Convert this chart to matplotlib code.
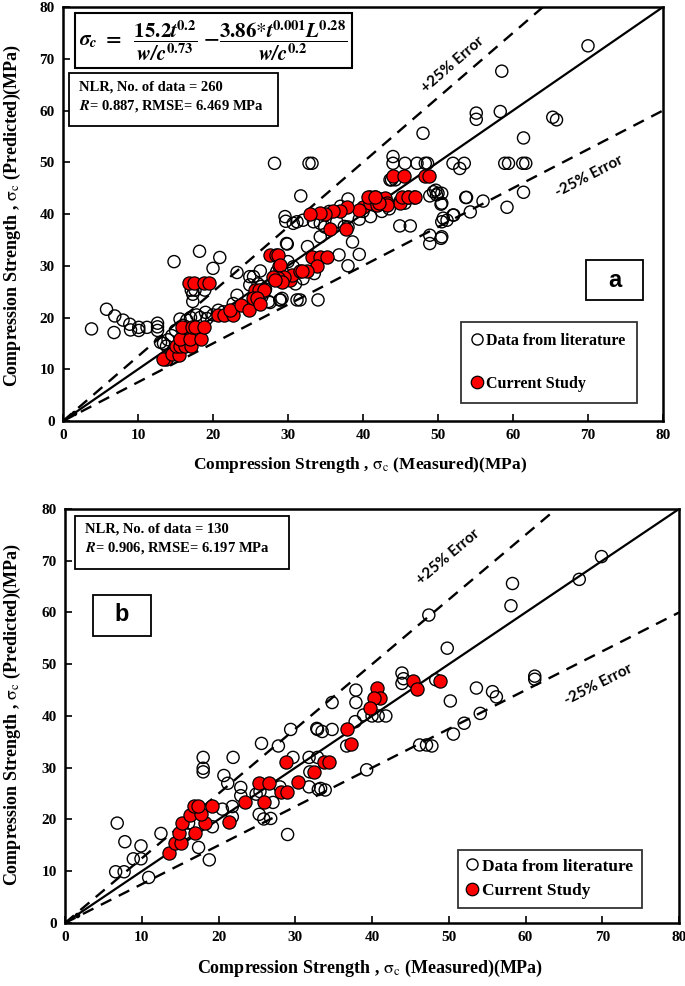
import matplotlib
matplotlib.use("Agg")
import matplotlib.pyplot as plt
from matplotlib.patches import Rectangle
from matplotlib.lines import Line2D
import numpy as np

plt.rcParams['mathtext.fontset'] = 'stix'
SERIF = 'Liberation Serif'
SANS = 'Liberation Sans'

# ---------------- data: panel a ----------------
lit_a_x = [3.8, 5.8, 6.9, 6.8, 8.0, 8.9, 9.0, 10.1, 10.1, 11.2, 12.6, 12.6, 12.6, 13.4, 14.0, 13.8, 13.0,
           14.8, 18.2, 20.9, 20.0, 23.2, 26.3, 25.4, 29.9, 17.3, 17.1, 17.6, 18.9, 17.3, 15.6, 17.8, 18.3,
           19.2, 20.7, 21.4, 23.2, 22.7, 28.9, 31.2, 27.4, 28.5, 28.9, 30.0, 30.7,
           48.0, 28.2, 32.8, 33.2, 44.0, 44.0, 45.6, 47.2, 48.3, 48.6, 52.0, 53.5, 52.9, 43.8, 44.3, 31.7,
           29.6, 29.7, 31.2, 32.0, 33.4, 38.0, 44.9, 45.6, 49.4, 49.8, 48.9, 50.4, 53.7, 50.7, 51.2, 52.0,
           44.9, 46.3, 48.9, 48.9, 50.4, 38.6, 39.5, 36.8, 38.0, 32.6, 38.0, 37.5, 34.3, 34.9, 31.6, 34.0,
           29.0, 27.6,
           70.0, 58.5, 55.1, 55.1, 58.3, 65.3, 65.8, 61.4, 58.9, 59.4, 61.3, 61.7, 61.4, 59.2, 53.8, 56.0,
           54.3, 52.1, 50.5, 50.5, 50.5, 50.5,
           43.6, 49.7, 50.0, 29.8, 34.3, 24.9, 24.9, 26.4, 29.2, 30.7,
           36.5, 39.5, 41.0, 42.5, 43.5, 40.0, 37.0, 35.5,
           14.5, 15.0, 16.0, 16.5, 17.0, 19.0, 20.0, 15.5, 16.8, 26.0, 27.0, 26.5, 32.0, 33.5, 31.0]
lit_a_y = [17.8, 21.6, 20.3, 17.1, 19.5, 18.7, 17.6, 18.1, 17.5, 18.1, 18.9, 18.2, 17.5, 15.0, 15.7, 14.5, 15.2,
           30.8, 32.8, 31.6, 29.5, 28.7, 29.0, 27.9, 34.2, 23.1, 25.3, 25.3, 25.3, 24.5, 19.7, 20.5, 20.0,
           19.8, 21.4, 21.1, 24.3, 22.7, 23.4, 23.4, 23.1, 28.9, 27.9, 30.8, 29.8,
           55.6, 49.8, 49.8, 49.8, 51.1, 49.8, 49.8, 49.8, 49.8, 49.8, 49.8, 49.8, 48.8, 46.6, 46.6, 43.5,
           39.5, 38.6, 38.5, 38.8, 38.5, 42.9, 42.4, 42.1, 44.3, 43.7, 43.5, 41.9, 43.2, 39.2, 38.8, 39.8,
           37.7, 37.7, 35.9, 34.3, 35.3, 34.6, 32.2, 32.1, 30.0, 33.7, 37.5, 37.6, 38.2, 37.5, 23.4, 23.4,
           23.4, 22.9,
           72.5, 67.6, 59.5, 58.3, 59.8, 58.7, 58.2, 54.7, 49.8, 49.8, 49.8, 49.8, 44.2, 41.3, 43.2, 42.5,
           40.4, 39.8, 38.5, 44.0, 42.1, 35.6,
           46.6, 44.6, 44.0, 34.3, 35.6, 27.9, 26.3, 26.0, 23.7, 38.2,
           38.5, 39.0, 39.5, 40.5, 41.0, 40.5, 41.5, 40.5,
           16.5, 17.5, 18.5, 19.5, 20.0, 21.0, 20.5, 13.5, 17.0, 26.5, 25.5, 24.0, 27.5, 28.5, 26.5]

cur_a_x = [13.7, 13.3, 14.5, 15.4, 15.1, 15.6, 16.3, 17.0, 15.6, 16.9, 18.4, 16.4, 15.9, 17.2, 17.6, 18.8,
           16.8, 17.5, 18.8, 19.4, 20.6, 21.4, 22.7, 22.2, 23.7, 24.8, 25.6, 26.1, 26.8, 25.3, 25.9, 26.3,
           27.6, 28.4, 28.8, 28.4, 29.2, 30.3, 30.5, 31.6,
           44.0, 45.4, 48.2, 48.8, 40.9, 41.6, 42.3, 42.9, 43.2, 40.0, 40.9, 41.8, 44.9, 46.0, 46.8, 39.4,
           37.9, 36.9, 36.0, 34.9, 34.3, 32.9, 35.6, 37.7, 28.6, 28.9, 33.2, 34.3, 35.2, 33.8, 32.5, 31.8,
           29.4, 28.7, 28.0, 29.2, 28.3, 45.2, 46.0, 46.9, 43.2, 42.1, 40.7, 41.6]
cur_a_y = [12.0, 12.0, 12.9, 12.8, 14.4, 14.4, 14.4, 14.4, 15.8, 15.8, 15.8, 18.1, 18.1, 18.1, 18.1, 18.1,
           26.6, 26.6, 26.6, 26.6, 20.5, 20.5, 20.5, 21.4, 22.4, 21.4, 25.3, 25.3, 25.3, 23.7, 23.7, 22.6,
           32.1, 32.1, 30.0, 27.6, 27.4, 27.2, 28.2, 28.9,
           47.4, 47.4, 47.4, 47.4, 43.3, 43.2, 42.9, 43.0, 42.1, 41.4, 42.1, 41.7, 42.1, 43.2, 43.2, 40.8,
           41.3, 40.6, 40.6, 40.0, 40.1, 40.0, 37.2, 37.2, 32.1, 30.1, 31.6, 31.6, 31.6, 30.0, 28.9, 29.0,
           27.9, 27.6, 27.9, 26.9, 27.2, 43.3, 43.3, 43.3, 41.7, 42.1, 43.3, 43.3]

# ---------------- data: panel b ----------------
lit_b_x = [6.8, 7.8, 9.9, 8.9, 9.9, 6.6, 7.7, 10.9, 12.5, 18.0, 18.0, 18.0, 21.9, 20.7, 21.2, 22.9, 22.9,
           21.8, 21.8, 20.5, 19.2, 17.4, 18.8, 15.6, 16.1, 25.6, 27.8, 29.4, 29.7, 25.4, 24.9, 27.1, 25.3,
           25.9, 26.8, 29.0, 28.0, 31.8, 31.9, 31.8, 33.0, 32.8,
           58.3, 58.1, 49.8, 47.4, 43.9, 43.9, 44.1, 48.3, 37.9, 37.9, 34.8, 38.9, 40.0, 40.8, 41.8, 37.8,
           34.8, 32.9, 33.5, 36.7, 50.2, 53.6, 55.7, 56.2, 61.2, 61.2, 54.1, 52.0, 50.6, 46.2, 47.1, 47.8,
           39.3, 32.9, 33.3, 33.9, 69.9, 67.0]
lit_b_y = [19.3, 15.7, 14.9, 12.4, 12.4, 9.9, 9.9, 8.8, 17.3, 32.0, 29.9, 29.2, 32.0, 28.5, 27.0, 26.2, 24.6,
           22.5, 20.5, 22.0, 18.6, 14.6, 12.2, 17.4, 19.3, 34.7, 34.2, 37.4, 32.0, 25.4, 24.9, 23.3, 21.0,
           20.1, 20.2, 17.1, 26.3, 32.0, 29.2, 26.3, 25.8, 37.6,
           65.6, 61.3, 53.1, 59.5, 48.3, 46.3, 47.2, 47.0, 45.0, 42.6, 42.6, 40.2, 40.0, 40.0, 40.0, 38.9,
           37.4, 37.4, 37.0, 34.2, 42.9, 45.4, 44.7, 43.7, 47.7, 47.1, 40.5, 38.6, 36.5, 34.4, 34.4, 34.2,
           29.6, 32.0, 26.0, 25.7, 70.8, 66.4]

cur_b_x = [13.6, 14.3, 15.1, 14.9, 15.3, 16.9, 18.2, 16.3, 17.7, 16.8, 17.3, 19.1, 21.4, 23.5, 25.3, 26.6,
           25.9, 28.1, 28.9, 30.3, 28.8, 32.4, 40.6, 41.0, 40.3, 39.7, 36.8, 37.3, 45.3, 45.8, 48.9, 33.7, 34.4]
cur_b_y = [13.5, 15.4, 15.4, 17.3, 19.3, 17.3, 19.3, 20.9, 21.0, 22.6, 22.6, 22.6, 19.6, 23.4, 27.1, 27.1,
           23.4, 25.4, 25.4, 27.3, 31.2, 29.2, 45.4, 43.4, 43.4, 41.5, 37.5, 34.6, 46.8, 45.2, 46.8, 31.2, 31.2]

ticks = [0, 10, 20, 30, 40, 50, 60, 70, 80]
ref_x = [0, 80]

fig = plt.figure(figsize=(6.85, 9.86), dpi=100)
ax_a = fig.add_axes([0.0920, 0.5730, 0.8759, 0.4199])
ax_b = fig.add_axes([0.0949, 0.0639, 0.8964, 0.4199])


def style_axes(ax):
    ax.set_xlim(0, 80)
    ax.set_ylim(0, 80)
    ax.set_xticks(ticks)
    ax.set_yticks(ticks)
    ax.tick_params(direction='in', length=5, width=1.2, top=False, right=False, pad=6)
    for lab in ax.get_xticklabels() + ax.get_yticklabels():
        lab.set_fontfamily(SERIF)
        lab.set_fontweight('bold')
        lab.set_fontsize(11)
    for sp in ax.spines.values():
        sp.set_linewidth(1.8)
        sp.set_color('black')


def draw_lines(ax):
    xs = np.array(ref_x, dtype=float)
    ax.plot(xs, xs, color='black', lw=1.6, zorder=2)
    ax.plot(xs, 1.25 * xs, color='black', lw=1.7, ls=(0, (5, 3.5)), zorder=2)
    ax.plot(xs, 0.75 * xs, color='black', lw=1.7, ls=(0, (5, 3.5)), zorder=2)
    ax.plot([1.5], [1.5], marker='o', ms=3, color='black', zorder=3)


def draw_points(ax, lx, ly, cx, cy):
    ax.scatter(lx, ly, s=76, facecolors='none', edgecolors='black', linewidths=1.0, zorder=4)
    ax.scatter(cx, cy, s=90, facecolors='#FF0000', edgecolors='black', linewidths=0.9, zorder=5)


def boxed(ax, x0, y0, x1, y1, lw=1.3):
    ax.add_patch(Rectangle((x0, y0), x1 - x0, y1 - y0, transform=ax.transAxes, fill=True,
                           facecolor='white', edgecolor='black', lw=lw, zorder=6))


for ax, lx, ly, cx, cy in [(ax_a, lit_a_x, lit_a_y, cur_a_x, cur_a_y), (ax_b, lit_b_x, lit_b_y, cur_b_x, cur_b_y)]:
    style_axes(ax)
    draw_lines(ax)
    draw_points(ax, lx, ly, cx, cy)

# ---- panel a annotations ----
boxed(ax_a, 0.020, 0.8527, 0.4817, 0.9855, lw=1.5)
num1 = r'\mathbf{15.2}\mathbfit{t}^{\mathbf{0.2}}'
den1 = r'\mathbfit{w/c}^{\mathbf{0.73}}'
num2 = r'\mathbf{3.86}{*}\mathbfit{t}^{\mathbf{0.001}}\mathbfit{L}^{\mathbf{0.28}}'
den2 = r'\mathbfit{w/c}^{\mathbf{0.2}}'
formula = (r'$\mathbfit{\sigma}_{\mathbfit{c}}\ \mathbf{=}\ \ \dfrac{' + num1 + '}{' + den1 +
           r'}\ \mathbf{-}\dfrac{' + num2 + '}{' + den2 + '}$')
ax_a.text(0.026, 0.920, formula, transform=ax_a.transAxes, fontsize=15, ha='left', va='center', zorder=7)

boxed(ax_a, 0.010, 0.7126, 0.358, 0.8406)
ax_a.text(0.027, 0.807, 'NLR, No. of data = 260', transform=ax_a.transAxes, fontsize=10.5,
          family=SERIF, weight='bold', ha='left', va='center', zorder=7)
ax_a.text(0.027, 0.761, r'$\mathbfit{R}$= 0.887, RMSE= 6.469 MPa', transform=ax_a.transAxes, fontsize=10.5,
          family=SERIF, weight='bold', ha='left', va='center', zorder=7)

boxed(ax_a, 0.8717, 0.2923, 0.9667, 0.3889)
ax_a.text(0.919, 0.3406, 'a', transform=ax_a.transAxes, fontsize=17, family=SANS, weight='bold',
          ha='center', va='center', zorder=7)

ax_a.text(51.9, 68.8, '+25% Error', fontsize=11, family='Lato', weight='bold', rotation=40.8,
          rotation_mode='anchor', ha='center', va='center', zorder=7)
ax_a.text(70.1, 47.2, '-25% Error', fontsize=11, family='Lato', weight='bold', rotation=27.4,
          rotation_mode='anchor', ha='center', va='center', zorder=7)

handles = [Line2D([], [], ls='none', marker='o', ms=8, mfc='none', mec='black', mew=1.0),
           Line2D([], [], ls='none', marker='o', ms=9, mfc='#FF0000', mec='black', mew=0.9)]
leg_a = ax_a.legend(handles, ['Data from literature', 'Current Study'], loc='lower left',
                    bbox_to_anchor=(0.663, 0.043), frameon=True, fancybox=False, edgecolor='black',
                    prop={'family': SERIF, 'weight': 'bold', 'size': 11.5}, labelspacing=1.7,
                    handlelength=0.6, handletextpad=0.3, borderpad=0.7, borderaxespad=0)
leg_a.get_frame().set_linewidth(1.3)
leg_a.set_zorder(8)

# ---- panel b annotations ----
boxed(ax_b, 0.0163, 0.855, 0.3648, 0.983)
ax_b.text(0.0326, 0.9517, 'NLR, No. of data = 130', transform=ax_b.transAxes, fontsize=10.5,
          family=SERIF, weight='bold', ha='left', va='center', zorder=7)
ax_b.text(0.0326, 0.9058, r'$\mathbfit{R}$= 0.906, RMSE= 6.197 MPa', transform=ax_b.transAxes, fontsize=10.5,
          family=SERIF, weight='bold', ha='left', va='center', zorder=7)

boxed(ax_b, 0.0456, 0.693, 0.1401, 0.792)
ax_b.text(0.0928, 0.744, 'b', transform=ax_b.transAxes, fontsize=17, family=SANS, weight='bold',
          ha='center', va='center', zorder=7)

ax_b.text(49.9, 70.8, '+25% Error', fontsize=11, family='Lato', weight='bold', rotation=40.1,
          rotation_mode='anchor', ha='center', va='center', zorder=7)
ax_b.text(69.5, 46.0, '-25% Error', fontsize=11, family='Lato', weight='bold', rotation=26.8,
          rotation_mode='anchor', ha='center', va='center', zorder=7)

leg_b = ax_b.legend(handles, ['Data from literature', 'Current Study'], loc='lower left',
                    bbox_to_anchor=(0.640, 0.036), frameon=True, fancybox=False, edgecolor='black',
                    prop={'family': SERIF, 'weight': 'bold', 'size': 12.5}, labelspacing=0.5,
                    handlelength=0.6, handletextpad=0.3, borderpad=0.5, borderaxespad=0)
leg_b.get_frame().set_linewidth(1.3)
leg_b.set_zorder(8)

# ---- axis labels ----
xl = r'Compression Strength , $\mathrm{\sigma_c}$ (Measured)(MPa)'
yl = r'Compression Strength , $\mathrm{\sigma_c}$ (Predicted)(MPa)'
fig.text(0.526, 0.528, xl, fontsize=12.5, family=SERIF, weight='bold', ha='center', va='center')
fig.text(0.540, 0.018, xl, fontsize=13, family=SERIF, weight='bold', ha='center', va='center')
fig.text(0.0175, 0.782, yl, fontsize=13, family=SERIF, weight='bold', ha='center', va='center', rotation=90)
fig.text(0.0175, 0.275, yl, fontsize=13, family=SERIF, weight='bold', ha='center', va='center', rotation=90)

fig.savefig('out.png', dpi=100)
